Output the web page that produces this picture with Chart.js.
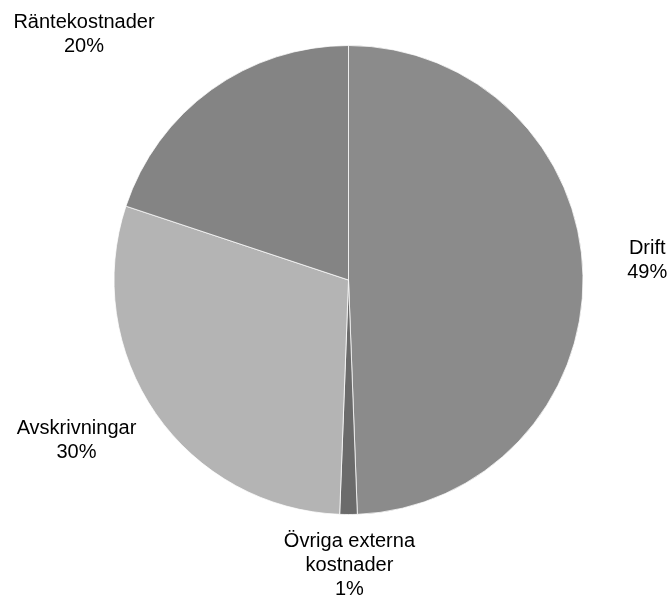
<!DOCTYPE html>
<html>
<head>
<meta charset="utf-8">
<script src="https://cdn.jsdelivr.net/npm/chart.js@4.4.1/dist/chart.umd.min.js"></script>
<style>
html,body{margin:0;padding:0;background:#fff;}
#wrap{width:670px;height:601px;}
</style>
</head>
<body>
<div id="wrap"><canvas id="c" width="670" height="601"></canvas></div>
<script>
const categories = ["Drift", "Övriga externa\nkostnader", "Avskrivningar", "Räntekostnader"];
const values = [49.4, 1.2, 29.5, 19.9];
const sliceColors = ["#8b8b8b", "#6b6b6b", "#b4b4b4", "#848484"];

// label block centers, relative to pie centre in units of the radius
const labelOffsets = [[1.274, -0.089], [0.004, 1.213], [-1.160, 0.677], [-1.128, -1.055]];

const labelPlugin = {
  id: 'outerLabels',
  afterDatasetsDraw(chart) {
    const ctx = chart.ctx;
    const meta = chart.getDatasetMeta(0);
    const arc0 = meta.data[0];
    const cx = arc0.x, cy = arc0.y, r = arc0.outerRadius;
    const total = values.reduce((a, b) => a + b, 0);
    ctx.save();
    ctx.font = '20px "Liberation Sans", Arial, sans-serif';
    ctx.fillStyle = '#000';
    ctx.textAlign = 'center';
    ctx.textBaseline = 'alphabetic';
    const lh = 24;
    meta.data.forEach((arc, i) => {
      const pct = Math.round(values[i] / total * 100);
      const lines = categories[i].split('\n').concat([pct + '%']);
      const bx = cx + labelOffsets[i][0] * r;
      const by = cy + labelOffsets[i][1] * r;
      const top = by - (lines.length - 1) * lh / 2;
      lines.forEach((t, k) => {
        ctx.fillText(t, bx, top + k * lh + 7);
      });
    });
    ctx.restore();
  }
};

new Chart(document.getElementById('c'), {
  type: 'pie',
  data: {
    labels: categories,
    datasets: [{
      data: values,
      backgroundColor: sliceColors,
      borderColor: 'rgba(255,255,255,0.75)',
      borderWidth: 1
    }]
  },
  options: {
    responsive: false,
    animation: false,
    layout: { padding: { left: 113, right: 86, top: 45, bottom: 86 } },
    plugins: { legend: { display: false }, tooltip: { enabled: false } }
  },
  plugins: [labelPlugin]
});
</script>
</body>
</html>
